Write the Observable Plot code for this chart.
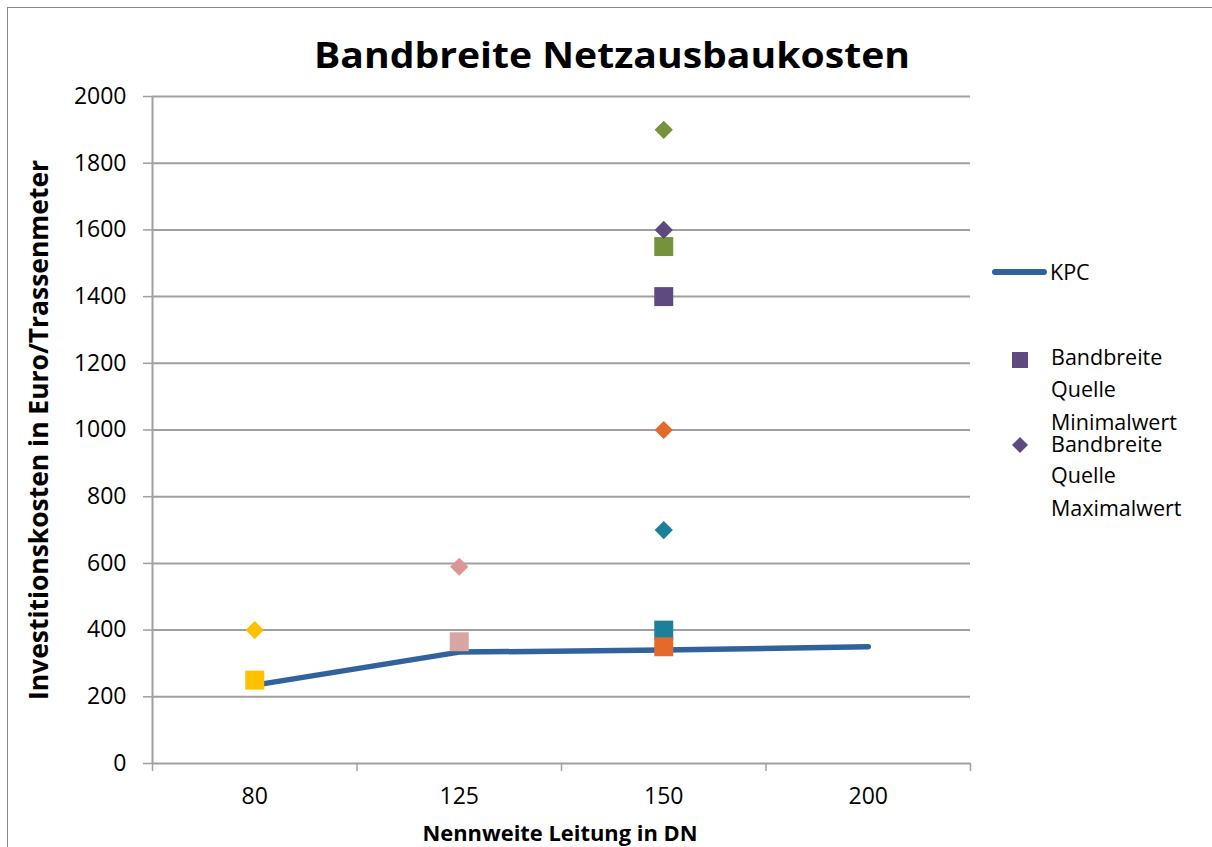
<!DOCTYPE html>
<html>
<head>
<meta charset="utf-8">
<script src="https://cdn.jsdelivr.net/npm/d3@7"></script>
<script src="https://cdn.jsdelivr.net/npm/@observablehq/plot@0.6"></script>
<style>
  html, body { margin: 0; padding: 0; background: #fff; overflow: hidden; }
  #wrap { position: relative; width: 1212px; height: 847px; overflow: hidden; }
  #frame { position: absolute; left: 7px; top: 7px; width: 1400px; height: 1000px; border: 1px solid #8a8a8a; box-sizing: border-box; }
  #chart { position: absolute; left: 0; top: 0; }
  #overlay { position: absolute; left: 0; top: 0; pointer-events: none; font-family: 'Open Sans', sans-serif; }
</style>
</head>
<body>
<div id="wrap">
  <div id="frame"></div>
  <div id="chart"></div>
  <svg id="overlay" width="1212" height="847"></svg>
</div>
<script>
// ---- data ----
const categories = ["80", "125", "150", "200"];
const kpcValues = [235, 334, 340, 350];
const yTicks = [0, 200, 400, 600, 800, 1000, 1200, 1400, 1600, 1800, 2000];
const sourceNames = ["Quelle 1", "Quelle 2", "Quelle 3", "Quelle 4", "Quelle 5", "Quelle 6"];
const sourceDN = ["80", "125", "150", "150", "150", "150"];
const minValues = [250, 365, 1550, 1400, 400, 350];
const maxValues = [400, 590, 1900, 1600, 700, 1000];

const titleText = "Bandbreite Netzausbaukosten";
const xLabel = "Nennweite Leitung in DN";
const yLabel = "Investitionskosten in Euro/Trassenmeter";
const lineName = "KPC";
const minLegend = ["Bandbreite", "Quelle", "Minimalwert"];
const maxLegend = ["Bandbreite", "Quelle", "Maximalwert"];

// ---- styles ----
const minColors = {"Quelle 1": "#FFC000", "Quelle 2": "#D9A5A3", "Quelle 3": "#76923C", "Quelle 4": "#5F4A80", "Quelle 5": "#1B819A", "Quelle 6": "#E5692A"};
const maxColors = {"Quelle 1": "#FFC000", "Quelle 2": "#D99694", "Quelle 3": "#76923C", "Quelle 4": "#5F4A80", "Quelle 5": "#1B819A", "Quelle 6": "#E5692A"};
const lineColor = "#30639C";
const gridColor = "#A0A0A0";

const xPos = dn => categories.indexOf(dn) + 1;
const kpc = categories.map((c, i) => ({dn: c, v: kpcValues[i]}));
const mins = sourceNames.map((s, i) => ({s, dn: sourceDN[i], v: minValues[i]}));
const maxs = sourceNames.map((s, i) => ({s, dn: sourceDN[i], v: maxValues[i]}));
const boundaries = d3.range(categories.length + 1).map(i => i + 0.5);

const chart = Plot.plot({
  width: 1212,
  height: 847,
  marginLeft: 152,
  marginRight: 242,
  marginTop: 96,
  marginBottom: 84,
  x: {domain: [0.5, categories.length + 0.5]},
  y: {domain: [0, 2000]},
  style: {fontFamily: "'Open Sans', sans-serif", fontSize: "23px", background: "transparent", color: "black"},
  marks: [
    Plot.gridY(yTicks, {stroke: gridColor, strokeOpacity: 1, strokeWidth: 2}),
    Plot.ruleX([0.5], {stroke: gridColor, strokeWidth: 2}),
    Plot.axisY({ticks: yTicks, tickSize: 9, tickPadding: 17, stroke: gridColor, strokeWidth: 1.5, label: null, fontSize: 23, tickFormat: d => String(d)}),
    Plot.axisX({ticks: boundaries, tickSize: 8, tickFormat: () => "", stroke: gridColor, strokeWidth: 1.5, label: null}),
    Plot.axisX({ticks: categories.map((c, i) => i + 1), tickSize: 0, tickPadding: 24, tickFormat: i => categories[i - 1], label: null, fontSize: 23}),
    Plot.line(kpc, {x: d => xPos(d.dn), y: "v", stroke: lineColor, strokeWidth: 5.5, strokeLinecap: "round", strokeLinejoin: "round"}),
    Plot.dot(mins, {x: d => xPos(d.dn), y: "v", symbol: "square", r: 10.7, fill: d => minColors[d.s]}),
    Plot.dot(maxs, {x: d => xPos(d.dn), y: "v", symbol: "diamond2", r: 8.2, fill: d => maxColors[d.s]})
  ]
});
document.getElementById("chart").appendChild(chart);

// ---- title, axis labels, legend ----
const ov = d3.select("#overlay");
ov.append("text").attr("x", 612).attr("y", 68).attr("text-anchor", "middle")
  .attr("font-weight", "bold").attr("font-size", 35).attr("textLength", 596).attr("lengthAdjust", "spacingAndGlyphs")
  .text(titleText);
ov.append("text").attr("transform", "translate(48,430) rotate(-90)").attr("text-anchor", "middle")
  .attr("font-weight", "bold").attr("font-size", 27).attr("textLength", 540).attr("lengthAdjust", "spacingAndGlyphs")
  .text(yLabel);
ov.append("text").attr("x", 560).attr("y", 841).attr("text-anchor", "middle")
  .attr("font-weight", "bold").attr("font-size", 22).attr("textLength", 275).attr("lengthAdjust", "spacingAndGlyphs")
  .text(xLabel);

// legend
ov.append("line").attr("x1", 995).attr("x2", 1044).attr("y1", 272).attr("y2", 272)
  .attr("stroke", lineColor).attr("stroke-width", 6).attr("stroke-linecap", "round");
ov.append("text").attr("x", 1050).attr("y", 280).attr("font-size", 21.5).text(lineName);
ov.append("rect").attr("x", 1012).attr("y", 352).attr("width", 16).attr("height", 16).attr("fill", minColors["Quelle 4"]);
minLegend.forEach((t, i) => ov.append("text").attr("x", 1051).attr("y", [365, 397, 430][i]).attr("font-size", 21.5).text(t));
ov.append("path").attr("d", "M1020,437 L1028,445 L1020,453 L1012,445 Z").attr("fill", maxColors["Quelle 4"]);
maxLegend.forEach((t, i) => ov.append("text").attr("x", 1051).attr("y", [452, 483, 516][i]).attr("font-size", 21.5).text(t));
</script>
</body>
</html>
